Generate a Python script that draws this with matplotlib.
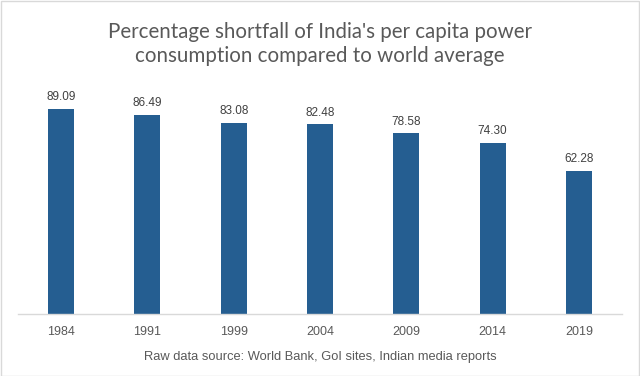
import matplotlib
matplotlib.use("Agg")
import matplotlib.pyplot as plt
from matplotlib.patches import Rectangle

years = ["1984", "1991", "1999", "2004", "2009", "2014", "2019"]
shortfall = [89.09, 86.49, 83.08, 82.48, 78.58, 74.30, 62.28]
value_labels = ["89.09", "86.49", "83.08", "82.48", "78.58", "74.30", "62.28"]

title = "Percentage shortfall of India's per capita power\nconsumption compared to world average"
source = "Raw data source: World Bank, GoI sites, Indian media reports"

bar_color = "#255e91"
text_color = "#595959"

fig = plt.figure(figsize=(6.4, 3.76), dpi=100)
fig.patch.set_facecolor("white")
fig.add_artist(Rectangle((0.001, 0.001), 0.997, 0.997, transform=fig.transFigure,
                         fill=False, edgecolor="#d9d9d9", linewidth=1))

ax = fig.add_axes([0.028, 0.165, 0.944, 0.593])
x = list(range(len(years)))
bars = ax.bar(x, shortfall, width=0.30, color=bar_color)
ax.set_xlim(-0.5, len(years) - 0.5)
ax.set_ylim(0, 97)
for xi, v, lab in zip(x, shortfall, value_labels):
    ax.text(xi, v + 2.5, lab, ha="center", va="bottom", fontsize=8.5,
            color="#404040", family="Liberation Sans")

ax.set_xticks(x)
ax.set_xticklabels(years, fontsize=9, color=text_color, family="Liberation Sans")
ax.tick_params(axis="x", length=0, pad=9)
ax.set_yticks([])
for s in ["top", "right", "left"]:
    ax.spines[s].set_visible(False)
ax.spines["bottom"].set_color("#d9d9d9")
ax.spines["bottom"].set_linewidth(1)

fig.text(0.5, 0.884, title, ha="center", va="center", fontsize=14.8,
         color=text_color, family="Lato", linespacing=1.25)
fig.text(0.5, 0.05, source, ha="center", va="center", fontsize=9.3,
         color=text_color, family=["Liberation Sans Narrow", "Liberation Sans"])

fig.savefig("out.png", dpi=100)
